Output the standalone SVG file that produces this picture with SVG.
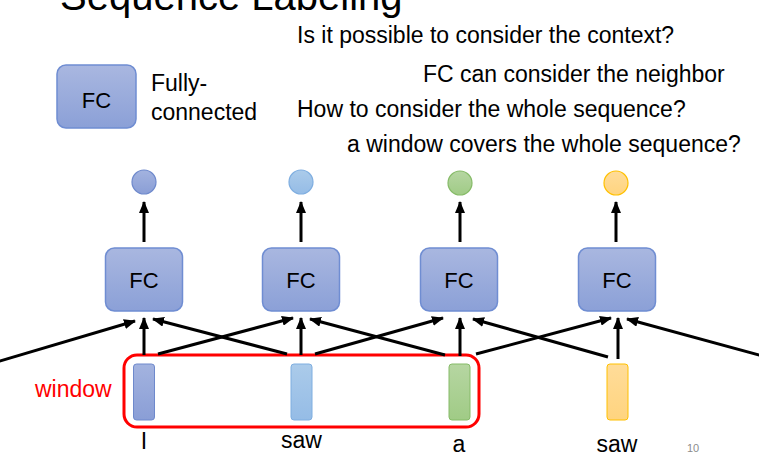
<svg xmlns="http://www.w3.org/2000/svg" width="759" height="470" viewBox="0 0 759 470">
<style>
  text { font-family: "Liberation Sans", Arial, sans-serif; fill: #000; }
  .t { font-size: 23px; }
  .fc { fill: url(#gFC); stroke: #6F8DD2; stroke-width: 1.5; }
  .fct { font-size: 22px; text-anchor: middle; }
  .lbl { font-size: 23px; text-anchor: middle; }
  .ar { stroke: #000; stroke-width: 3; fill: none; marker-end: url(#ah); }
</style>
<defs>
  <linearGradient id="gFC" x1="0" y1="0" x2="0" y2="1">
    <stop offset="0" stop-color="#A9B7E0"/>
    <stop offset="1" stop-color="#8BA0D7"/>
  </linearGradient>
  <linearGradient id="gB" x1="0" y1="0" x2="0" y2="1">
    <stop offset="0" stop-color="#A3B3DF"/>
    <stop offset="1" stop-color="#8A9ED6"/>
  </linearGradient>
  <linearGradient id="gLB" x1="0" y1="0" x2="0" y2="1">
    <stop offset="0" stop-color="#ABCBEA"/>
    <stop offset="1" stop-color="#95BCE6"/>
  </linearGradient>
  <linearGradient id="gG" x1="0" y1="0" x2="0" y2="1">
    <stop offset="0" stop-color="#B6D6A2"/>
    <stop offset="1" stop-color="#A0CB86"/>
  </linearGradient>
  <linearGradient id="gY" x1="0" y1="0" x2="0" y2="1">
    <stop offset="0" stop-color="#FFDC99"/>
    <stop offset="1" stop-color="#FFD47F"/>
  </linearGradient>
  <marker id="ah" markerUnits="userSpaceOnUse" markerWidth="12" markerHeight="10" refX="11" refY="5" orient="auto">
    <path d="M0,0 L12,5 L0,10 z" fill="#000"/>
  </marker>
</defs>

<g id="title"><text x="60" y="10" style="font-size:40px">Sequence Labeling</text></g>

<g id="notes">
  <text class="t" x="297" y="43">Is it possible to consider the context?</text>
  <text class="t" x="423" y="82">FC can consider the neighbor</text>
  <text class="t" x="297" y="117">How to consider the whole sequence?</text>
  <text class="t" x="347" y="152">a window covers the whole sequence?</text>
</g>

<g id="legend">
  <rect class="fc" x="57" y="65" width="79" height="63" rx="9"/>
  <text class="fct" x="96.5" y="108">FC</text>
  <text class="t" x="151" y="91">Fully-</text>
  <text class="t" x="151" y="120">connected</text>
</g>

<g id="fc1"><rect class="fc" x="105.5" y="248" width="77" height="63" rx="9"/><text class="fct" x="144" y="288">FC</text></g>
<g id="fc2"><rect class="fc" x="262.5" y="248" width="77" height="63" rx="9"/><text class="fct" x="301" y="288">FC</text></g>
<g id="fc3"><rect class="fc" x="420.5" y="248" width="77" height="63" rx="9"/><text class="fct" x="459" y="288">FC</text></g>
<g id="fc4"><rect class="fc" x="578.5" y="248" width="77" height="63" rx="9"/><text class="fct" x="617" y="288">FC</text></g>

<g id="out1"><circle cx="144" cy="182" r="12" fill="url(#gB)" stroke="#6E89CC" stroke-width="1.2"/></g>
<g id="out2"><circle cx="301" cy="182" r="12" fill="url(#gLB)" stroke="#7FAEE0" stroke-width="1.2"/></g>
<g id="out3"><circle cx="460" cy="183" r="12" fill="url(#gG)" stroke="#86BB68" stroke-width="1.2"/></g>
<g id="out4"><circle cx="616" cy="183" r="12" fill="url(#gY)" stroke="#FFC000" stroke-width="1.2"/></g>

<g id="in1"><rect x="133.5" y="364" width="21" height="56" rx="3" fill="url(#gB)" stroke="#6E89CC" stroke-width="1"/><text class="lbl" x="144" y="449">I</text></g>
<g id="in2"><rect x="291" y="364" width="21" height="56" rx="3" fill="url(#gLB)" stroke="#7FAEE0" stroke-width="1"/><text class="lbl" x="301.5" y="448">saw</text></g>
<g id="in3"><rect x="449" y="364" width="21" height="56" rx="3" fill="url(#gG)" stroke="#86BB68" stroke-width="1"/><text class="lbl" x="459" y="452">a</text></g>
<g id="in4"><rect x="607" y="364" width="21" height="56" rx="3" fill="url(#gY)" stroke="#FFC000" stroke-width="1"/><text class="lbl" x="617" y="452">saw</text></g>

<g id="window">
  <rect x="124" y="355" width="355" height="72" rx="13" fill="none" stroke="#FF0000" stroke-width="3"/>
  <text x="35" y="397" style="font-size:23px;fill:#FF0000">window</text>
</g>

<g id="page"><text x="687" y="452" style="font-size:11px;fill:#8C8C8C">10</text></g>

<g id="connectors">
  <line class="ar" x1="144" y1="242" x2="144" y2="202"/>
  <line class="ar" x1="301" y1="242" x2="301" y2="202"/>
  <line class="ar" x1="460" y1="242" x2="460" y2="202"/>
  <line class="ar" x1="616" y1="242" x2="616" y2="202"/>

  <line class="ar" x1="144" y1="355" x2="144" y2="318"/>
  <line class="ar" x1="301" y1="355" x2="301" y2="318"/>
  <line class="ar" x1="460" y1="356" x2="460" y2="318"/>
  <line class="ar" x1="618" y1="359" x2="618" y2="318"/>

  <line class="ar" x1="-10" y1="364" x2="135" y2="321"/>
  <line class="ar" x1="287" y1="354" x2="153" y2="319"/>
  <line class="ar" x1="158" y1="354" x2="293" y2="318"/>
  <line class="ar" x1="445" y1="355" x2="310" y2="319"/>
  <line class="ar" x1="315" y1="354" x2="443" y2="318"/>
  <line class="ar" x1="608" y1="357" x2="473" y2="319"/>
  <line class="ar" x1="476" y1="354" x2="611" y2="318"/>
  <line class="ar" x1="770" y1="358" x2="627" y2="319"/>
</g>
</svg>
